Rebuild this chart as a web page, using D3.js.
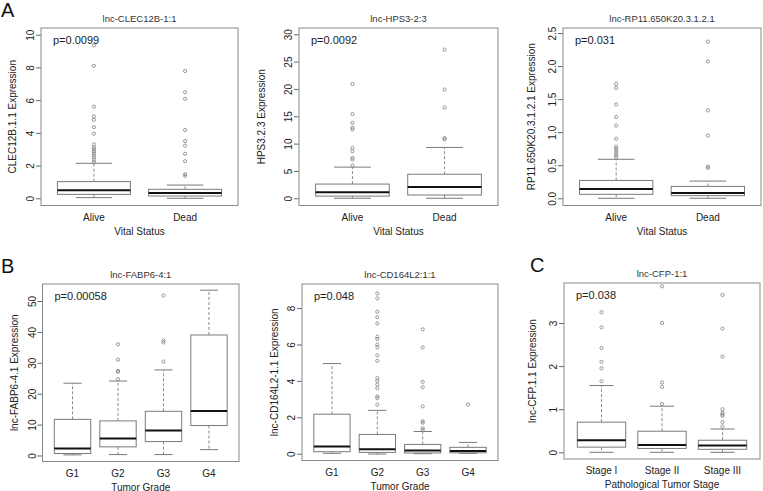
<!DOCTYPE html>
<meta charset="utf-8">
<style>
body { margin: 0; background: #fff; }
svg text { font-family: "Liberation Sans", Arial, sans-serif; fill: #222; }
.frame { fill: none; stroke: #888; stroke-width: 1px; }
.box { fill: #fff; stroke: #7a7a7a; stroke-width: 1px; }
.whisker { stroke: #8a8a8a; stroke-width: 1px; stroke-dasharray: 3,2; }
.staple { stroke: #7a7a7a; stroke-width: 1px; }
.median { stroke: #111; stroke-width: 2px; }
.out { fill: none; stroke: #7f7f7f; stroke-width: 0.8px; }
.yax line { stroke: #666; }
.yax text { font-size: 10px; }
.title { font-size: 9.5px; fill: #333; }
.pval { font-size: 11px; }
.lab { font-size: 10px; }
.letter { font-size: 20px; fill: #111; }
</style>
<body>
<svg id="fig" width="763" height="491"></svg>
<script src="https://cdn.jsdelivr.net/npm/d3@7"></script>
<script>

// ---- values: [low whisker, Q1, median, Q3, high whisker] ----
var vitalGroups = ["Alive", "Dead"];
var gradeGroups = ["G1", "G2", "G3", "G4"];
var stageGroups = ["Stage I", "Stage II", "Stage III"];

var clecStats = [[0.04, 0.24, 0.49, 1.02, 2.14], [0.0, 0.14, 0.33, 0.55, 0.81]];
var clecOut = [
  [2.2, 2.35, 2.5, 2.62, 2.75, 2.88, 3.0, 3.12, 3.3, 3.95, 4.35, 4.8, 5.0, 5.6, 8.1, 9.35],
  [1.38, 1.48, 2.27, 2.72, 3.22, 3.5, 4.18, 6.08, 6.48, 7.78]
];
var clecTicks = [0, 2, 4, 6, 8, 10];

var hpsStats = [[0, 0.4, 1.1, 2.6, 5.7], [0, 0.6, 2.05, 4.4, 9.3]];
var hpsOut = [
  [6.0, 7.1, 7.4, 8.6, 9.2, 12.6, 12.9, 13.8, 15.4, 20.9],
  [10.8, 11.0, 16.6, 19.9, 27.2]
];
var hpsTicks = [0, 5, 10, 15, 20, 25, 30];

var rpStats = [[0, 0.06, 0.14, 0.27, 0.59], [0, 0.04, 0.08, 0.18, 0.26]];
var rpOut = [
  [0.62, 0.65, 0.68, 0.72, 0.75, 0.78, 0.9, 1.1, 1.23, 1.42, 1.67, 1.73],
  [0.46, 0.48, 0.95, 1.33, 2.07, 2.37]
];
var rpTicks = [0, 0.5, 1.0, 1.5, 2.0, 2.5];

var fabpStats = [
  [0.2, 0.65, 2.3, 11.7, 23.4],
  [0.3, 2.8, 5.5, 11.2, 24.1],
  [0.3, 4.5, 8.1, 14.3, 27.7],
  [1.9, 9.7, 14.4, 39.0, 53.5]
];
var fabpOut = [[], [24.7, 27.1, 27.4, 31, 36], [30.4, 36.6, 37.2, 51.8], []];
var fabpTicks = [0, 10, 20, 30, 40, 50];

var cdStats = [
  [0.02, 0.11, 0.4, 2.17, 4.95],
  [-0.02, 0.07, 0.24, 1.06, 2.38],
  [0, 0.04, 0.17, 0.51, 1.22],
  [0.02, 0.05, 0.15, 0.35, 0.62]
];
var cdOut = [
  [],
  [2.7, 3.05, 3.15, 3.6, 3.8, 4.0, 4.15, 5.1, 5.4, 5.85, 6.0, 6.3, 6.43, 7.15, 7.5, 7.8, 8.53, 8.8],
  [1.3, 1.4, 1.7, 1.78, 2.6, 3.65, 3.95, 5.84, 6.83],
  [2.7]
];
var cdTicks = [0, 2, 4, 6, 8];

var cfpStats = [
  [0, 0.12, 0.28, 0.7, 1.55],
  [0, 0.09, 0.17, 0.49, 1.07],
  [0, 0.07, 0.16, 0.28, 0.54]
];
var cfpOut = [
  [1.65, 1.95, 2.1, 2.42, 2.9, 3.25],
  [1.12, 1.52, 1.62, 3.0, 3.85],
  [0.6, 0.7, 0.85, 0.88, 0.92, 1.0, 2.22, 2.87, 3.65]
];
var cfpTicks = [0, 1, 2, 3];

// ---- panels (layout + which arrays) ----
var panels = [
  {x0: 41, x1: 238, y0: 28, y1: 205.5, ylim: [-0.44, 10.41], ticks: clecTicks, fmt: d3.format("d"),
   groups: vitalGroups, stats: clecStats, outs: clecOut, title: "lnc-CLEC12B-1:1", p: "p=0.0099",
   ylab: "CLEC12B.1.1 Expression", ylabOff: 25, xlab: "Vital Status", letter: "A", lx: 1, ly: 17},
  {x0: 299, x1: 498, y0: 28, y1: 205.5, ylim: [-1.32, 31.15], ticks: hpsTicks, fmt: d3.format("d"),
   groups: vitalGroups, stats: hpsStats, outs: hpsOut, title: "lnc-HPS3-2:3", p: "p=0.0092",
   ylab: "HPS3.2.3 Expression", ylabOff: 34, xlab: "Vital Status"},
  {x0: 563, x1: 761, y0: 28, y1: 205.5, ylim: [-0.109, 2.576], ticks: rpTicks, fmt: d3.format(".1f"),
   groups: vitalGroups, stats: rpStats, outs: rpOut, title: "lnc-RP11.650K20.3.1.2.1", p: "p=0.031",
   ylab: "RP11.650K20.3.1.2.1 Expression", ylabOff: 28, xlab: "Vital Status"},
  {x0: 42.5, x1: 239, y0: 284, y1: 461.5, ylim: [-1.94, 55.5], ticks: fabpTicks, fmt: d3.format("d"),
   groups: gradeGroups, stats: fabpStats, outs: fabpOut, title: "lnc-FABP6-4:1", p: "p=0.00058",
   ylab: "lnc-FABP6-4.1 Expression", ylabOff: 25, xlab: "Tumor Grade", letter: "B", lx: 1, ly: 273},
  {x0: 302, x1: 498, y0: 284, y1: 460.5, ylim: [-0.373, 9.32], ticks: cdTicks, fmt: d3.format("d"),
   groups: gradeGroups, stats: cdStats, outs: cdOut, title: "lnc-CD164L2:1:1", p: "p=0.048",
   ylab: "lnc-CD164L2-1.1 Expression", ylabOff: 24, xlab: "Tumor Grade"},
  {x0: 564, x1: 760, y0: 283, y1: 459, ylim: [-0.155, 3.928], ticks: cfpTicks, fmt: d3.format("d"),
   groups: stageGroups, stats: cfpStats, outs: cfpOut, title: "lnc-CFP-1:1", p: "p=0.038",
   ylab: "lnc-CFP.1.1 Expression", ylabOff: 28, xlab: "Pathological Tumor Stage", letter: "C", lx: 530, ly: 272}
];

var svg = d3.select("#fig");

panels.forEach(function(P) {
  var n = P.groups.length;
  // R style x range: 0.5..n+0.5 extended by 4%
  var x = d3.scaleLinear().domain([0.5 - 0.04 * n, n + 0.5 + 0.04 * n]).range([P.x0, P.x1]);
  var y = d3.scaleLinear().domain(P.ylim).range([P.y1, P.y0]);
  var bw = x(0.8) - x(0);
  var g = svg.append("g");

  // y axis
  var ax = g.append("g")
      .attr("class", "yax")
      .attr("transform", "translate(" + P.x0 + ",0)")
      .call(d3.axisLeft(y).tickValues(P.ticks).tickFormat(P.fmt).tickSize(5).tickSizeOuter(0));
  ax.select(".domain").remove();
  ax.selectAll("text")
      .attr("transform", "rotate(-90)")
      .attr("x", 0)
      .attr("y", -7)
      .attr("dy", 0)
      .attr("fill", "#222")
      .style("text-anchor", "middle");

  var bx = g.selectAll(".grp")
    .data(P.stats)
    .enter().append("g")
      .attr("class", "grp");

  // whiskers
  bx.append("line").attr("class", "whisker")
      .attr("x1", function(d, i) { return x(i + 1); }).attr("x2", function(d, i) { return x(i + 1); })
      .attr("y1", function(d) { return y(d[3]); }).attr("y2", function(d) { return y(d[4]); });
  bx.append("line").attr("class", "whisker")
      .attr("x1", function(d, i) { return x(i + 1); }).attr("x2", function(d, i) { return x(i + 1); })
      .attr("y1", function(d) { return y(d[1]); }).attr("y2", function(d) { return y(d[0]); });
  // staples
  [0, 4].forEach(function(k) {
    bx.append("line").attr("class", "staple")
        .attr("x1", function(d, i) { return x(i + 1) - bw / 4; })
        .attr("x2", function(d, i) { return x(i + 1) + bw / 4; })
        .attr("y1", function(d) { return y(d[k]); })
        .attr("y2", function(d) { return y(d[k]); });
  });
  // box
  bx.append("rect").attr("class", "box")
      .attr("x", function(d, i) { return x(i + 1) - bw / 2; })
      .attr("width", bw)
      .attr("y", function(d) { return y(d[3]); })
      .attr("height", function(d) { return y(d[1]) - y(d[3]); });
  // median
  bx.append("line").attr("class", "median")
      .attr("x1", function(d, i) { return x(i + 1) - bw / 2; })
      .attr("x2", function(d, i) { return x(i + 1) + bw / 2; })
      .attr("y1", function(d) { return y(d[2]); })
      .attr("y2", function(d) { return y(d[2]); });

  // outliers
  P.outs.forEach(function(arr, i) {
    g.selectAll(".o" + i)
      .data(arr)
      .enter().append("circle")
        .attr("class", "out")
        .attr("cx", x(i + 1))
        .attr("cy", function(d) { return y(d); })
        .attr("r", 1.6);
  });

  // frame
  g.append("rect").attr("class", "frame")
      .attr("x", P.x0).attr("y", P.y0)
      .attr("width", P.x1 - P.x0).attr("height", P.y1 - P.y0);

  // x labels
  g.selectAll(".xl")
    .data(P.groups)
    .enter().append("text")
      .attr("class", "lab")
      .attr("x", function(d, i) { return x(i + 1); })
      .attr("y", P.y1 + 15)
      .attr("text-anchor", "middle")
      .text(function(d) { return d; });

  g.append("text").attr("class", "lab")
      .attr("x", (P.x0 + P.x1) / 2).attr("y", P.y1 + 29)
      .attr("text-anchor", "middle")
      .text(P.xlab);

  g.append("text").attr("class", "lab")
      .attr("transform", "translate(" + (P.x0 - P.ylabOff) + "," + ((P.y0 + P.y1) / 2) + ") rotate(-90)")
      .attr("text-anchor", "middle")
      .text(P.ylab);

  g.append("text").attr("class", "title")
      .attr("x", (P.x0 + P.x1) / 2).attr("y", P.y0 - 6.5)
      .attr("text-anchor", "middle")
      .text(P.title);

  g.append("text").attr("class", "pval")
      .attr("x", P.x0 + 12).attr("y", P.y0 + 16)
      .text(P.p);

  if (P.letter) {
    svg.append("text").attr("class", "letter")
        .attr("x", P.lx).attr("y", P.ly)
        .text(P.letter);
  }
});

</script>
</body>
